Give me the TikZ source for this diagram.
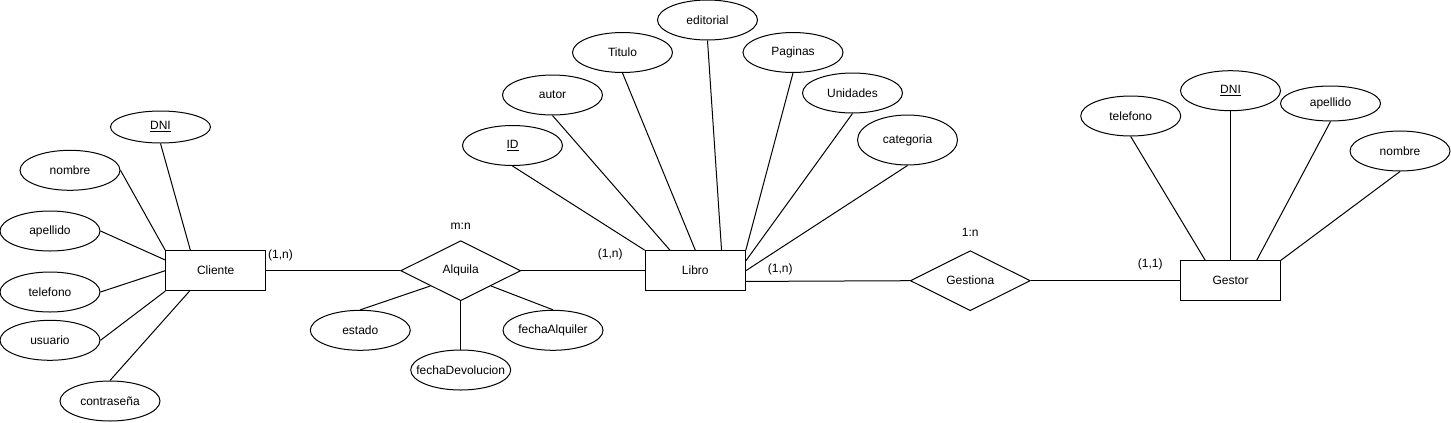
\documentclass[tikz,border=0pt]{standalone}
\usepackage{fontspec}
\setmainfont{Liberation Sans}
\usepackage{tikz}
\usetikzlibrary{shapes.geometric, arrows}
\tikzstyle{entidad} = [rectangle, minimum width=75pt, minimum height=30pt, inner sep=0pt, text centered, draw=black, fill=white]
\tikzstyle{atributo} = [ellipse, minimum width=75pt, minimum height=30pt, inner sep=0pt, text centered, draw=black, fill=white]
\tikzstyle{relacion} = [diamond, aspect=2, minimum width=90pt, minimum height=45pt, inner sep=0pt, text centered, draw=black, fill=white]
\tikzstyle{card} = [inner sep=0pt]
\tikzstyle{linea} = [line width=0.75pt]

\begin{document}
\begin{tikzpicture}[x=0.75pt, y=-0.75pt, line width=0.75pt, font=\fontsize{9}{10}\selectfont]
        \useasboundingbox (0,0) rectangle (1451,422);

        \node (cliente) [entidad] at (215.7,270.7) {Cliente};

        \node (alquila) [relacion] at (460.7,270.7) {Alquila};

        \node (libro) [entidad] at (695.3,270.7) {Libro};

        \node (gestiona) [relacion] at (970.3,280.7) {Gestiona};

        \node (gestor) [entidad] at (1230.5,280.7) {Gestor};

        \node (cliDNI) [atributo, minimum height=24pt] at (160.5,127) {\underline{DNI}};
        \node (cliNombre) [atributo] at (70,170.3) {nombre};
        \node (cliApellido) [atributo] at (50,231) {apellido};
        \node (cliTelefono) [atributo] at (50,292) {telefono};
        \node (cliUsuario) [atributo] at (50,340.3) {usuario};
        \node (cliPass) [atributo] at (110,401) {contraseña};

        \node (alqEstado) [atributo] at (360.3,330.3) {estado};
        \node (alqDevolucion) [atributo] at (460.7,370) {\makebox[0pt]{fechaDevolucion}};
        \node (alqFecha) [atributo] at (553,330.3) {\makebox[0pt]{fechaAlquiler}};

        \node (libID) [atributo] at (512.5,145.5) {\underline{ID}};
        \node (libAutor) [atributo] at (552.5,95) {autor};
        \node (libTitulo) [atributo] at (622.5,52.5) {Titulo};
        \node (libEditorial) [atributo] at (707.5,20) {editorial};
        \node (libPaginas) [atributo] at (793,52.5) {Paginas};
        \node (libUnidades) [atributo] at (852.5,93) {Unidades};
        \node (libCategoria) [atributo, minimum height=37.5pt] at (907.5,140) {categoria};

        \node (gesTelefono) [atributo] at (1130.7,116) {telefono};
        \node (gesDNI) [atributo] at (1230.5,90.7) {\underline{DNI}};
        \node (gesApellido) [atributo, minimum height=26.25pt] at (1330.5,103.5) {apellido};
        \node (gesNombre) [atributo] at (1400,151) {nombre};

        \node (card1) [card] at (280.5,255.7) {(1,n)};
        \node (card2) [card] at (460.7,226) {m:n};
        \node (card3) [card] at (610.3,254) {(1,n)};
        \node (card4) [card] at (780.3,269.5) {(1,n)};
        \node (card5) [card] at (970.3,232) {1:n};
        \node (card6) [card] at (1150.3,264.3) {(1,1)};

        \draw [linea] (cliente.east) -- (alquila.west);
        \draw [linea] (alquila.east) -- (libro.west);
        \draw [linea] (libro.348.69) -- (gestiona.west);
        \draw [linea] (gestiona.east) -- (gestor.west);

        \draw [linea] (cliDNI.south) -- (cliente.141.34);
        \draw [linea] (cliNombre.east) -- (cliente.north west);
        \draw [linea] (cliApellido.east) -- (cliente.168.69);
        \draw [linea] (cliTelefono.east) -- (cliente.west);
        \draw [linea] (cliUsuario.east) -- (cliente.south west);
        \draw [linea] (cliPass.north) -- (cliente.218.66);

        \draw [linea] (alqEstado.north) -- (alquila.south west);
        \draw [linea] (alqDevolucion.north) -- (alquila.south);
        \draw [linea] (alqFecha.north) -- (alquila.south east);

        \draw [linea] (libID.south) -- (libro.north west);
        \draw [linea] (libAutor.south) -- (libro.141.34);
        \draw [linea] (libTitulo.south) -- (libro.north);
        \draw [linea] (libEditorial.south) -- (libro.38.66);
        \draw [linea] (libPaginas.south) -- (libro.north east);
        \draw [linea] (libUnidades.south) -- (libro.11.31);
        \draw [linea] (libCategoria.south) -- (libro.east);

        \draw [linea] (gesTelefono.south) -- (gestor.141.34);
        \draw [linea] (gesDNI.south) -- (gestor.north);
        \draw [linea] (gesApellido.south) -- (gestor.38.66);
        \draw [linea] (gesNombre.south) -- (gestor.north east);
    \end{tikzpicture}
\end{document}
